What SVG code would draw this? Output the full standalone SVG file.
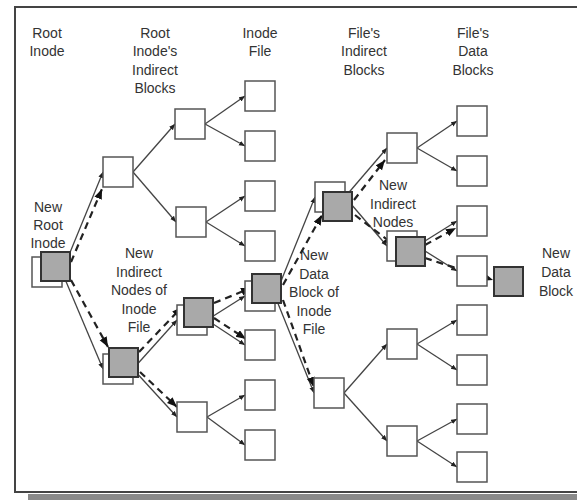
<svg xmlns="http://www.w3.org/2000/svg" width="577" height="500" viewBox="0 0 577 500">
<defs>
<style>
.lbl{font-family:"Liberation Sans",Arial,sans-serif;font-size:14px;fill:#333;text-anchor:middle}
.wb{fill:#fff;stroke:#555;stroke-width:1.5}
.gb{fill:#a9a9a9;stroke:#333;stroke-width:2}
.sl{stroke:#444;stroke-width:1.3;fill:none;marker-end:url(#sa)}
.dl{stroke:#222;stroke-width:2.2;fill:none;stroke-dasharray:7 5;marker-end:url(#da)}
</style>
<marker id="sa" markerUnits="userSpaceOnUse" markerWidth="7" markerHeight="6" refX="6" refY="2.5" orient="auto"><path d="M0,0 L6,2.5 L0,5 z" fill="#222"/></marker>
<marker id="da" markerUnits="userSpaceOnUse" markerWidth="11" markerHeight="9" refX="10" refY="4" orient="auto"><path d="M0,0 L10,4 L0,8 z" fill="#111"/></marker>
</defs>
<rect x="0" y="0" width="577" height="500" fill="#fff"/>
<g id="frame">
<rect x="28" y="494" width="549" height="6" fill="#8a8a8a"/>
<path d="M577,7 H15 V492 H577" fill="none" stroke="#444" stroke-width="2"/>
</g>
<g id="labels">
<text class="lbl" x="47" y="38">Root</text><text class="lbl" x="47" y="56">Inode</text>
<text class="lbl" x="155" y="38">Root</text><text class="lbl" x="155" y="56">Inode's</text><text class="lbl" x="155" y="75">Indirect</text><text class="lbl" x="155" y="93">Blocks</text>
<text class="lbl" x="260" y="38">Inode</text><text class="lbl" x="260" y="56">File</text>
<text class="lbl" x="364" y="38">File's</text><text class="lbl" x="364" y="56">Indirect</text><text class="lbl" x="364" y="75">Blocks</text>
<text class="lbl" x="473" y="38">File's</text><text class="lbl" x="473" y="56">Data</text><text class="lbl" x="473" y="75">Blocks</text>
<text class="lbl" x="48" y="212">New</text><text class="lbl" x="48" y="230">Root</text><text class="lbl" x="48" y="248">Inode</text>
<text class="lbl" x="139" y="258">New</text><text class="lbl" x="139" y="277">Indirect</text><text class="lbl" x="139" y="295">Nodes of</text><text class="lbl" x="139" y="314">Inode</text><text class="lbl" x="139" y="332">File</text>
<text class="lbl" x="314" y="260">New</text><text class="lbl" x="314" y="279">Data</text><text class="lbl" x="314" y="297">Block of</text><text class="lbl" x="314" y="316">Inode</text><text class="lbl" x="314" y="334">File</text>
<text class="lbl" x="393" y="190">New</text><text class="lbl" x="393" y="209">Indirect</text><text class="lbl" x="393" y="227">Nodes</text>
<text class="lbl" x="556" y="258">New</text><text class="lbl" x="556" y="277">Data</text><text class="lbl" x="556" y="296">Block</text>
</g>
<g id="connectors">
<path class="sl" d="M62,272 L103,172"/><path class="sl" d="M62,272 L103,369"/>
<path class="sl" d="M133,172 L175,124"/><path class="sl" d="M133,172 L176,222"/>
<path class="sl" d="M133,369 L177,320"/><path class="sl" d="M133,369 L177,417"/>
<path class="sl" d="M205,124 L245,96"/><path class="sl" d="M205,124 L245,146"/>
<path class="sl" d="M206,222 L245,196"/><path class="sl" d="M206,222 L245,246"/>
<path class="sl" d="M207,320 L245,296"/><path class="sl" d="M207,320 L245,345"/>
<path class="sl" d="M207,417 L245,395"/><path class="sl" d="M207,417 L245,445"/>
<path class="sl" d="M275,296 L315,197"/><path class="sl" d="M275,296 L314,393"/>
<path class="sl" d="M345,197 L387,148"/><path class="sl" d="M345,197 L387,246"/>
<path class="sl" d="M344,393 L387,344"/><path class="sl" d="M344,393 L387,441"/>
<path class="sl" d="M417,148 L457,121"/><path class="sl" d="M417,148 L457,171"/>
<path class="sl" d="M417,246 L457,221"/><path class="sl" d="M417,246 L457,271"/>
<path class="sl" d="M417,344 L457,320"/><path class="sl" d="M417,344 L457,370"/>
<path class="sl" d="M417,441 L457,419"/><path class="sl" d="M417,441 L457,467"/>
<path class="dl" d="M71,262 L102,189"/><path class="dl" d="M71,280 L108,347"/>
<path class="dl" d="M139,352 L182,307"/><path class="dl" d="M140,372 L177,407"/>
<path class="dl" d="M214,303 L251,288"/><path class="dl" d="M214,318 L246,339"/>
<path class="dl" d="M283,285 L322,215"/><path class="dl" d="M283,300 L314,387"/>
<path class="dl" d="M354,200 L385,160"/><path class="dl" d="M355,215 L394,245"/>
<path class="dl" d="M425,245 L456,228"/><path class="dl" d="M425,258 L493,280"/>
</g>
<g id="root"><rect class="wb" x="32" y="257" width="30" height="30"/><rect class="gb" x="41" y="252" width="29" height="29"/></g>
<g id="a1"><rect class="wb" x="103" y="157" width="30" height="30"/></g>
<g id="a2"><rect class="wb" x="103" y="354" width="30" height="30"/><rect class="gb" x="109" y="348" width="29" height="29"/></g>
<g id="b1"><rect class="wb" x="175" y="109" width="30" height="30"/></g>
<g id="b2"><rect class="wb" x="176" y="207" width="30" height="30"/></g>
<g id="b3"><rect class="wb" x="177" y="305" width="30" height="30"/><rect class="gb" x="184" y="298" width="29" height="29"/></g>
<g id="b4"><rect class="wb" x="177" y="402" width="30" height="30"/></g>
<g id="c1"><rect class="wb" x="245" y="81" width="30" height="30"/></g>
<g id="c2"><rect class="wb" x="245" y="131" width="30" height="30"/></g>
<g id="c3"><rect class="wb" x="245" y="181" width="30" height="30"/></g>
<g id="c4"><rect class="wb" x="245" y="231" width="30" height="30"/></g>
<g id="c5"><rect class="wb" x="245" y="281" width="30" height="30"/><rect class="gb" x="252" y="274" width="29" height="29"/></g>
<g id="c6"><rect class="wb" x="245" y="330" width="30" height="30"/></g>
<g id="c7"><rect class="wb" x="245" y="380" width="30" height="30"/></g>
<g id="c8"><rect class="wb" x="245" y="430" width="30" height="30"/></g>
<g id="d1"><rect class="wb" x="315" y="182" width="30" height="30"/><rect class="gb" x="323" y="192" width="29" height="29"/></g>
<g id="d2"><rect class="wb" x="314" y="378" width="30" height="30"/></g>
<g id="e1"><rect class="wb" x="387" y="133" width="30" height="30"/></g>
<g id="e2"><rect class="wb" x="387" y="231" width="30" height="30"/><rect class="gb" x="396" y="237" width="29" height="29"/></g>
<g id="e3"><rect class="wb" x="387" y="329" width="30" height="30"/></g>
<g id="e4"><rect class="wb" x="387" y="426" width="30" height="30"/></g>
<g id="f1"><rect class="wb" x="457" y="106" width="30" height="30"/></g>
<g id="f2"><rect class="wb" x="457" y="156" width="30" height="30"/></g>
<g id="f3"><rect class="wb" x="457" y="206" width="30" height="30"/></g>
<g id="f4"><rect class="wb" x="457" y="256" width="30" height="30"/></g>
<g id="f5"><rect class="wb" x="457" y="305" width="30" height="30"/></g>
<g id="f6"><rect class="wb" x="457" y="355" width="30" height="30"/></g>
<g id="f7"><rect class="wb" x="457" y="404" width="30" height="30"/></g>
<g id="f8"><rect class="wb" x="457" y="452" width="30" height="30"/></g>
<g id="newdata"><rect class="gb" x="494" y="267" width="29" height="29"/></g>
</svg>
